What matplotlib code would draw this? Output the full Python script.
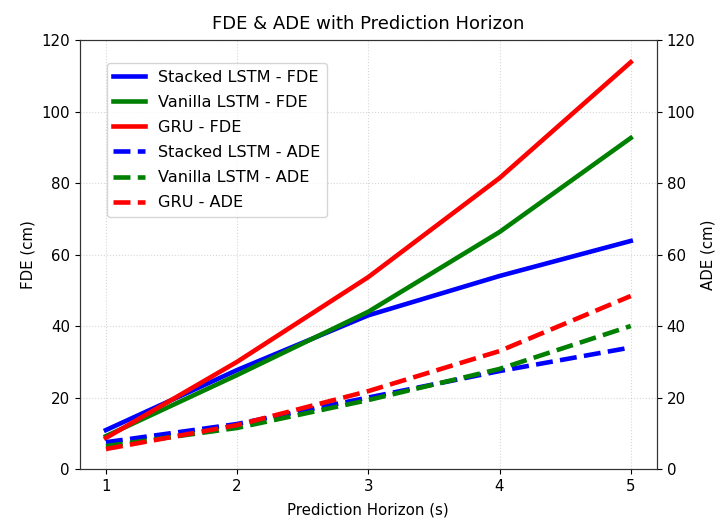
import matplotlib
matplotlib.use("Agg")
import matplotlib.pyplot as plt

# Prediction horizons (s)
horizon = [1, 2, 3, 4, 5]

# FDE values (cm)
fde_stacked = [10.9, 27.7, 43.0, 54.0, 63.8]
fde_vanilla = [9.2, 26.3, 44.0, 66.3, 92.6]
fde_gru = [8.7, 30.0, 53.7, 81.4, 113.8]

# ADE values (cm)
ade_stacked = [7.5, 12.6, 20.0, 27.4, 34.0]
ade_vanilla = [6.4, 11.5, 19.3, 28.0, 40.0]
ade_gru = [5.6, 12.3, 21.8, 33.0, 48.4]

plt.rcParams['font.size'] = 10.8
plt.rcParams['axes.edgecolor'] = '#333333'

fig, ax1 = plt.subplots(figsize=(7.18, 5.2), dpi=100)
fig.subplots_adjust(left=0.111, right=0.915, bottom=0.098, top=0.923)
ax2 = ax1.twinx()

lw = 3.3
l1, = ax1.plot(horizon, fde_stacked, color='blue', linewidth=lw, label='Stacked LSTM - FDE')
l2, = ax1.plot(horizon, fde_vanilla, color='green', linewidth=lw, label='Vanilla LSTM - FDE')
l3, = ax1.plot(horizon, fde_gru, color='red', linewidth=lw, label='GRU - FDE')
l4, = ax2.plot(horizon, ade_stacked, color='blue', linewidth=lw, linestyle='--', label='Stacked LSTM - ADE')
l5, = ax2.plot(horizon, ade_vanilla, color='green', linewidth=lw, linestyle='--', label='Vanilla LSTM - ADE')
l6, = ax2.plot(horizon, ade_gru, color='red', linewidth=lw, linestyle='--', label='GRU - ADE')

ax1.set_ylim(0, 120)
ax2.set_ylim(0, 120)
ax1.set_xticks(horizon)
ax1.set_xlabel('Prediction Horizon (s)', labelpad=6)
ax1.set_ylabel('FDE (cm)')
ax2.set_ylabel('ADE (cm)')
ax1.set_title('FDE & ADE with Prediction Horizon', fontsize=13, pad=8)
ax1.grid(True, linestyle=':', alpha=0.5)

lines = [l1, l2, l3, l4, l5, l6]
ax1.legend(lines, [l.get_label() for l in lines], loc='upper left',
           bbox_to_anchor=(0.047, 0.946), borderaxespad=0, fontsize=11.6,
           labelspacing=0.63)

fig.savefig('out.png')
